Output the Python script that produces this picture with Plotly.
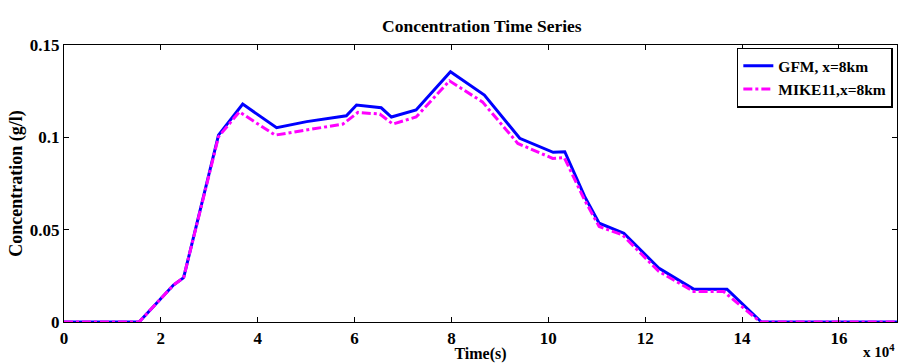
import plotly.graph_objects as go

# time in units of 1e4 s
gfm_t = [0, 1.55, 2.26, 2.47, 3.19, 3.69, 4.39, 5.01, 5.83, 6.04, 6.55, 6.76, 7.27, 7.98, 8.68, 9.41, 10.1, 10.34, 10.75, 11.05, 11.56, 12.28, 13.0, 13.69, 14.4, 17.2]
gfm_c = [0, 0, 0.020, 0.024, 0.1012, 0.118, 0.1052, 0.1085, 0.1117, 0.1175, 0.116, 0.111, 0.1148, 0.1355, 0.1229, 0.0995, 0.0919, 0.0922, 0.068, 0.0535, 0.0481, 0.0292, 0.0178, 0.0178, 0, 0]

mike_t = [0, 1.55, 2.26, 2.47, 3.19, 3.62, 4.36, 5.76, 6.07, 6.52, 6.79, 7.27, 7.96, 8.64, 9.37, 10.09, 10.33, 10.75, 11.05, 11.53, 12.28, 13.0, 13.62, 14.38, 17.2]
mike_c = [0, 0, 0.020, 0.024, 0.1003, 0.1138, 0.1012, 0.1072, 0.1135, 0.1126, 0.1072, 0.111, 0.1306, 0.1192, 0.0967, 0.0886, 0.089, 0.066, 0.0517, 0.0472, 0.0274, 0.0165, 0.0165, 0, 0]

x_ticks = [0, 2, 4, 6, 8, 10, 12, 14, 16]
y_ticks = [0, 0.05, 0.1, 0.15]
y_labels = ["0", "0.05", "0.1", "0.15"]

FONT = "Liberation Serif"

fig = go.Figure()
fig.add_trace(go.Scatter(x=gfm_t, y=gfm_c, mode="lines", name="GFM, x=8km",
                         line=dict(color="#0000ff", width=3)))
fig.add_trace(go.Scatter(x=mike_t, y=mike_c, mode="lines", name="MIKE11,x=8km",
                         line=dict(color="#ff00ff", width=3, dash="dashdot")))

axis_common = dict(showline=True, linecolor="black", linewidth=1.2, mirror="ticks",
                   ticks="inside", ticklen=5, tickcolor="black", showgrid=False, zeroline=False,
                   automargin=False,
                   tickfont=dict(family=FONT, size=17, color="black", weight="bold"))

fig.update_layout(
    width=904, height=363,
    margin=dict(l=64, r=7, t=45, b=41),
    paper_bgcolor="white", plot_bgcolor="white",
    title=dict(text="<b>Concentration Time Series</b>", x=0.533, xanchor="center", y=0.93, yanchor="middle",
               font=dict(family=FONT, size=17.5, color="black")),
    xaxis=dict(range=[0, 17.2], tickvals=x_ticks, ticktext=[str(v) for v in x_ticks],
               title=dict(text="<b>Time(s)</b>", standoff=0, font=dict(family=FONT, size=16, color="black")),
               **axis_common),
    yaxis=dict(range=[0, 0.15], tickvals=y_ticks, ticktext=y_labels,
               title=dict(text="<b>Concentration (g/l)</b>", standoff=2, font=dict(family=FONT, size=18, color="black")),
               **axis_common),
    legend=dict(x=0.995, y=0.99, xanchor="right", yanchor="top", bgcolor="white",
                bordercolor="black", borderwidth=1.5,
                font=dict(family=FONT, size=15.5, color="black", weight="bold"),
                tracegroupgap=0, itemwidth=30),
    showlegend=True,
)
fig.add_annotation(text="<b>x 10<sup>4</sup></b>", xref="paper", yref="paper", x=1.0, y=-0.146,
                   xanchor="right", yanchor="bottom", showarrow=False,
                   font=dict(family=FONT, size=15, color="black"))

fig.write_html("out.html")
